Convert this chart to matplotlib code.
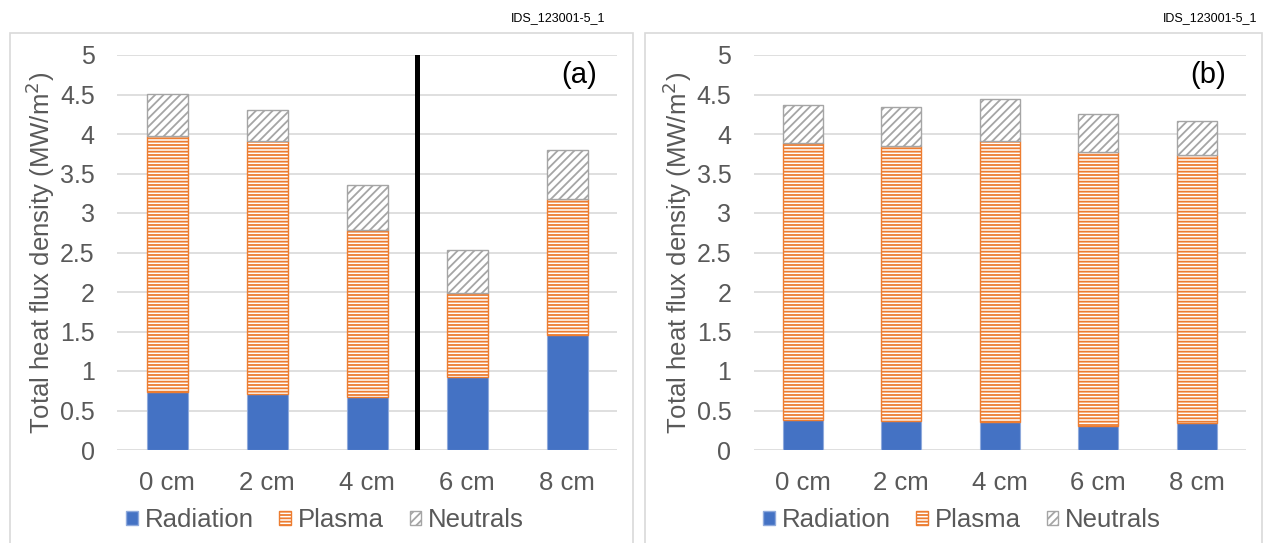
import numpy as np
import matplotlib.pyplot as plt
from matplotlib.patches import Rectangle, Patch

plt.rcParams['font.family'] = ['Liberation Sans', 'DejaVu Sans']
plt.rcParams['hatch.linewidth'] = 1.3

# Категорії (відстань)
categories = ['0 cm', '2 cm', '4 cm', '6 cm', '8 cm']

# Панель (a)
radiation_a = [0.73, 0.71, 0.67, 0.93, 1.46]
plasma_a = [3.25, 3.20, 2.12, 1.06, 1.72]
neutrals_a = [0.52, 0.40, 0.56, 0.54, 0.62]

# Панель (b)
radiation_b = [0.38, 0.37, 0.35, 0.30, 0.34]
plasma_b = [3.51, 3.48, 3.56, 3.47, 3.40]
neutrals_b = [0.48, 0.49, 0.53, 0.48, 0.42]

series_names = ['Radiation', 'Plasma', 'Neutrals']
yticks = [0, 0.5, 1, 1.5, 2, 2.5, 3, 3.5, 4, 4.5, 5]
ytick_labels = ['0', '0.5', '1', '1.5', '2', '2.5', '3', '3.5', '4', '4.5', '5']

text_gray = '#595959'
grid_gray = '#D9D9D9'
c_rad = '#4472C4'
c_pla = '#ED7D31'
c_neu = '#A5A5A5'

fig = plt.figure(figsize=(12.66, 5.43), dpi=100)

# Рамки панелей як у Excel
fig.patches.append(Rectangle((10 / 1266, -0.05), 623 / 1266, 1.05 - 33 / 543,
                             transform=fig.transFigure, fill=False,
                             edgecolor=grid_gray, linewidth=1.2))
fig.patches.append(Rectangle((645 / 1266, -0.05), 617 / 1266, 1.05 - 33 / 543,
                             transform=fig.transFigure, fill=False,
                             edgecolor=grid_gray, linewidth=1.2))


def draw_panel(ax, rad, pla, neu, tag):
    x = np.arange(len(categories))
    w = 0.41
    rad = np.array(rad)
    pla = np.array(pla)
    neu = np.array(neu)
    ax.bar(x, rad, w, color=c_rad, edgecolor='#8FAADC', linewidth=0.8, zorder=3)
    ax.bar(x, pla, w, bottom=rad, color='white', edgecolor=c_pla,
           hatch='-----', linewidth=1.0, zorder=3)
    ax.bar(x, neu, w, bottom=rad + pla, color='white', edgecolor=c_neu,
           hatch='////', linewidth=1.0, zorder=3)
    ax.set_xlim(-0.5, len(categories) - 0.5)
    ax.set_ylim(0, 5)
    ax.set_yticks(yticks)
    ax.set_yticklabels(ytick_labels)
    ax.set_xticks(x)
    ax.set_xticklabels(categories)
    ax.tick_params(axis='both', length=0, colors=text_gray)
    ax.tick_params(axis='y', labelsize=18, pad=16)
    ax.tick_params(axis='x', labelsize=18.5, pad=15)
    ax.grid(axis='y', color=grid_gray, linewidth=1.2, zorder=0)
    for s in ax.spines.values():
        s.set_visible(False)
    ax.set_ylabel('Total heat flux density (MW/m$^2$)', fontsize=18.5,
                  color=text_gray, labelpad=2)
    ax.text(0.96, 0.95, tag, transform=ax.transAxes, ha='right', va='center',
            fontsize=21, color='black')


ax1 = fig.add_axes([117 / 1266, 93 / 543, 500 / 1266, 395 / 543])
draw_panel(ax1, radiation_a, plasma_a, neutrals_a, '(a)')
ax1.axvline(2.5, color='black', linewidth=3.6, zorder=4)

ax2 = fig.add_axes([753.5 / 1266, 93 / 543, 492.5 / 1266, 395 / 543])
draw_panel(ax2, radiation_b, plasma_b, neutrals_b, '(b)')

fig.text(605 / 1266, 1 - 18 / 543, 'IDS_123001-5_1', ha='right', va='center',
         fontsize=9, color='black')
fig.text(1257 / 1266, 1 - 18 / 543, 'IDS_123001-5_1', ha='right', va='center',
         fontsize=9, color='black')

handles = [Patch(facecolor=c_rad, edgecolor='#8FAADC'),
           Patch(facecolor='white', edgecolor=c_pla, hatch='-----'),
           Patch(facecolor='white', edgecolor=c_neu, hatch='////')]
for cx in (325 / 1266, 962 / 1266):
    leg = fig.legend(handles, series_names, loc='center', ncol=3,
                     bbox_to_anchor=(cx, 1 - 520 / 543), frameon=False,
                     fontsize=18.5, handlelength=0.45, handleheight=0.45,
                     handletextpad=0.27, columnspacing=1.0)
    for t in leg.get_texts():
        t.set_color(text_gray)

fig.savefig('out.png', dpi=100)
